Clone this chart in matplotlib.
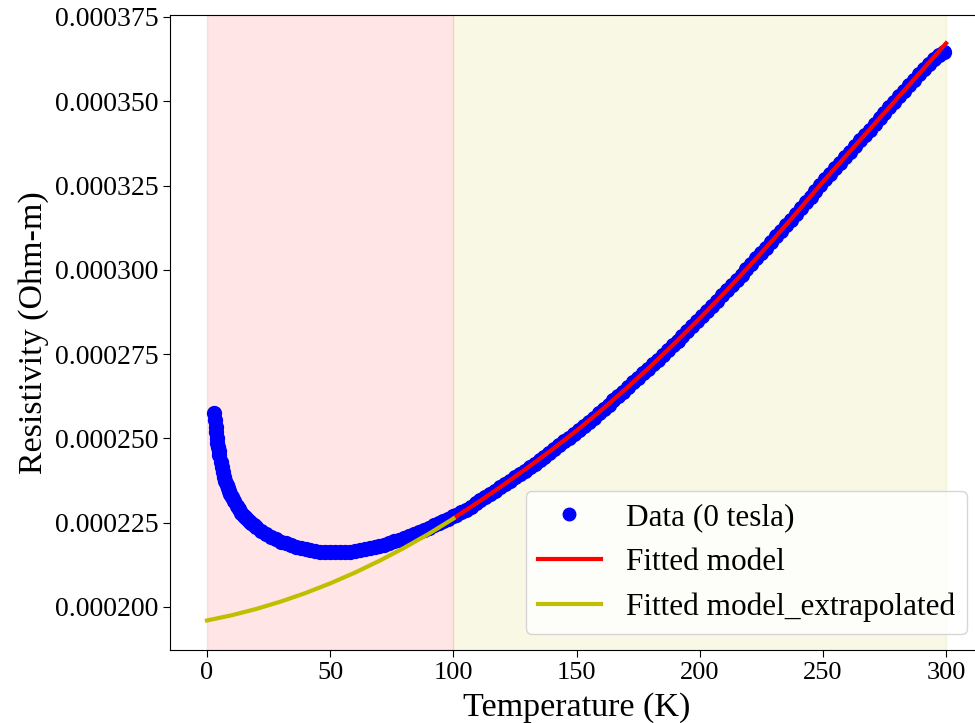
import matplotlib.pyplot as plt
import numpy as np
from matplotlib.ticker import MultipleLocator, FormatStrFormatter

plt.rcParams['font.family'] = ['Liberation Serif', 'DejaVu Serif']

# Measured resistivity at 0 tesla (values in micro-Ohm-m)
temp_low = [3, 3.25, 3.5, 3.75, 4, 4.25, 4.5, 4.75, 5, 5.5, 6, 6.5, 7, 7.5,
            8, 8.5, 9, 9.5, 10, 11, 12, 13, 14, 15, 16, 17, 18, 19]
rho_low = [257.6, 255.5, 253.5, 251.8, 250.2, 248.7, 247.5, 246.2, 245.1,
           243.1, 241.4, 239.9, 238.5, 237.3, 236.2, 235.2, 234.4, 233.5,
           232.7, 231.3, 230.0, 229.0, 228.0, 227.1, 226.4, 225.6, 224.9, 224.2]

temp_mid = np.arange(20, 101, 2)
rho_mid = [223.6, 222.6, 221.7, 220.8, 220.1, 219.4, 218.9, 218.4, 217.9, 217.5,
           217.1, 216.9, 216.7, 216.4, 216.3, 216.2, 216.2, 216.2, 216.3, 216.4,
           216.7, 216.9, 217.2, 217.5, 217.8, 218.2, 218.5, 219.0, 219.5, 220.0,
           220.5, 221.1, 221.7, 222.3, 222.8, 223.5, 224.2, 224.8, 225.5, 226.2,
           226.9]

temp_high = np.arange(101, 300, 2)
rho_high = [227.3, 228.1, 228.9, 229.8, 230.7, 231.6, 232.6, 233.5, 234.5, 235.5,
            236.5, 237.5, 238.5, 239.5, 240.4, 241.4, 242.5, 243.6, 244.6, 245.7,
            246.8, 247.9, 249.1, 250.2, 251.4, 252.5, 253.8, 255.0, 256.2, 257.4,
            258.7, 260.0, 261.3, 262.6, 263.9, 265.3, 266.6, 268.0, 269.3, 270.7,
            272.0, 273.4, 274.8, 276.2, 277.6, 279.0, 280.5, 281.9, 283.4, 284.9,
            286.4, 287.9, 289.3, 290.9, 292.4, 293.9, 295.5, 297.0, 298.6, 300.2,
            301.8, 303.4, 305.0, 306.6, 308.3, 309.9, 311.6, 313.2, 314.9, 316.6,
            318.3, 320.0, 321.7, 323.4, 325.1, 326.9, 328.5, 330.1, 331.8, 333.4,
            335.1, 336.7, 338.4, 340.0, 341.6, 343.3, 344.9, 346.5, 348.2, 349.8,
            351.5, 353.1, 354.7, 356.4, 358.0, 359.6, 361.2, 362.6, 363.8, 364.7]

temperature = np.concatenate([temp_low, temp_mid, temp_high])
resistivity = np.concatenate([rho_low, rho_mid, rho_high]) * 1e-6

# Fitted model (100-300 K) and its extrapolation below 100 K
temp_fit = np.arange(100, 301, 10)
rho_fit = [226.3, 231.05, 236.05, 241.25, 246.65, 252.3, 258.3, 264.7, 271.35,
           278.35, 285.6, 293.15, 301.0, 309.1, 317.5, 326.1, 334.3, 342.5,
           350.7, 358.95, 367.2]

temp_ext = np.arange(0, 101, 10)
rho_ext = [196.0, 197.54, 199.42, 201.62, 204.14, 207.0, 210.18, 213.7,
           217.54, 221.7, 226.2]

fig = plt.figure(figsize=(9.75, 7.23), dpi=100)
ax = fig.add_axes([0.1744, 0.101, 0.8338, 0.8783])

ax.axvspan(0, 100, color='red', alpha=0.1)
ax.axvspan(100, 300, color='y', alpha=0.1)

ax.plot(temperature, resistivity, 'bo', markersize=10, label='Data (0 tesla)')
ax.plot(temp_fit, np.array(rho_fit) * 1e-6, 'r-', linewidth=3, label='Fitted model')
ax.plot(temp_ext, np.array(rho_ext) * 1e-6, 'y-', linewidth=3,
        label='Fitted model_extrapolated')

ax.set_xlim(-15, 315)
ax.set_ylim(0.00018725, 0.0003756)
ax.yaxis.set_major_locator(MultipleLocator(0.000025))
ax.yaxis.set_major_formatter(FormatStrFormatter('%.6f'))
ax.tick_params(axis='y', labelsize=20, length=5)
ax.tick_params(axis='x', labelsize=19, length=5)

ax.set_xlabel('Temperature (K)', fontsize=24.5, labelpad=6)
ax.set_ylabel('Resistivity (Ohm-m)', fontsize=24.5)
ax.legend(loc='lower right', fontsize=22.5, markerscale=0.9)

fig.savefig('out.png', dpi=100)
